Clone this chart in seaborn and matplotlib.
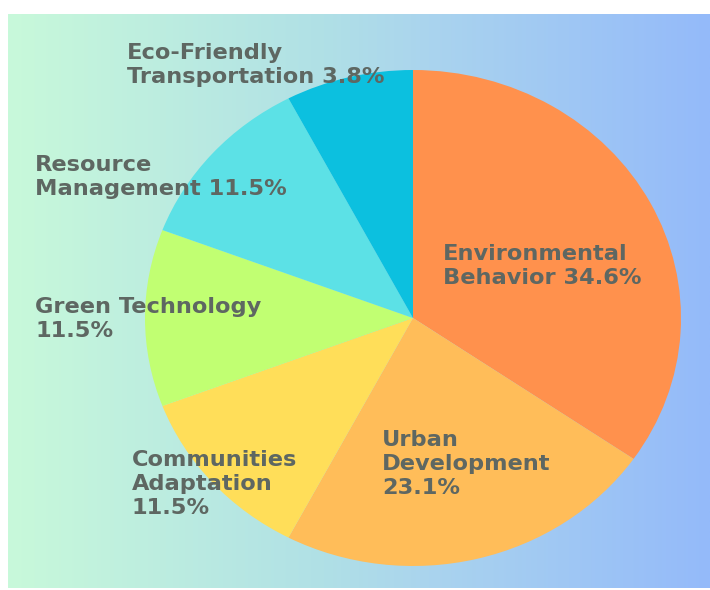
import numpy as np
import matplotlib
matplotlib.use("Agg")
import matplotlib.pyplot as plt
import seaborn as sns

categories = ["Environmental\nBehavior", "Urban\nDevelopment", "Communities\nAdaptation",
              "Green Technology", "Resource\nManagement", "Eco-Friendly\nTransportation"]
counts = [9, 6, 3, 3, 3, 2]
pct_labels = ["34.6%", "23.1%", "11.5%", "11.5%", "11.5%", "3.8%"]
colors = ["#FF914D", "#FFBD59", "#FFDE59", "#C1FF72", "#5CE1E6", "#0CC0DF"]

sns.set_style("white")
plt.rcParams['font.family'] = ['DejaVu Sans']

W, H = 710, 590
fig = plt.figure(figsize=(W / 100, H / 100), dpi=100)
fig.patch.set_facecolor("white")

# gradient background
bg = fig.add_axes([8 / W, 2 / H, (W - 8) / W, (H - 16) / H])
stops = np.array([[200, 249, 218], [176, 224, 230], [170, 212, 238], [148, 186, 250]]) / 255.0
pos = np.array([0.0, 0.45, 0.6, 1.0])
xs = np.linspace(0, 1, 512)
grad = np.stack([np.interp(xs, pos, stops[:, c]) for c in range(3)], axis=-1)[None, :, :]
bg.imshow(grad, aspect="auto", extent=(0, 1, 0, 1))
bg.set_axis_off()

# pie
cx, cy, rx, ry = 413, 318, 268, 248
ax = fig.add_axes([(cx - rx) / W, 1 - (cy + ry) / H, 2 * rx / W, 2 * ry / H])
ax.pie(counts, colors=colors, startangle=90, counterclock=False,
       wedgeprops=dict(linewidth=0, antialiased=True), radius=1)
ax.set_aspect("auto")
ax.set_xlim(-1, 1)
ax.set_ylim(-1, 1)
ax.set_axis_off()

# labels (left, top in pixels)
label_pos = [(443, 244), (382, 430), (132, 450), (35, 297), (35, 155), (127, 43)]
inline = {"Environmental\nBehavior", "Resource\nManagement", "Eco-Friendly\nTransportation"}
for cat, pct, (x, y) in zip(categories, pct_labels, label_pos):
    t = cat + " " + pct if cat in inline else cat + "\n" + pct
    fig.text(x / W, 1 - y / H, t, ha="left", va="top", fontsize=16.2,
             fontweight="bold", color="#5E6762", linespacing=1.26)

fig.savefig("out.png", dpi=100, facecolor="white")
